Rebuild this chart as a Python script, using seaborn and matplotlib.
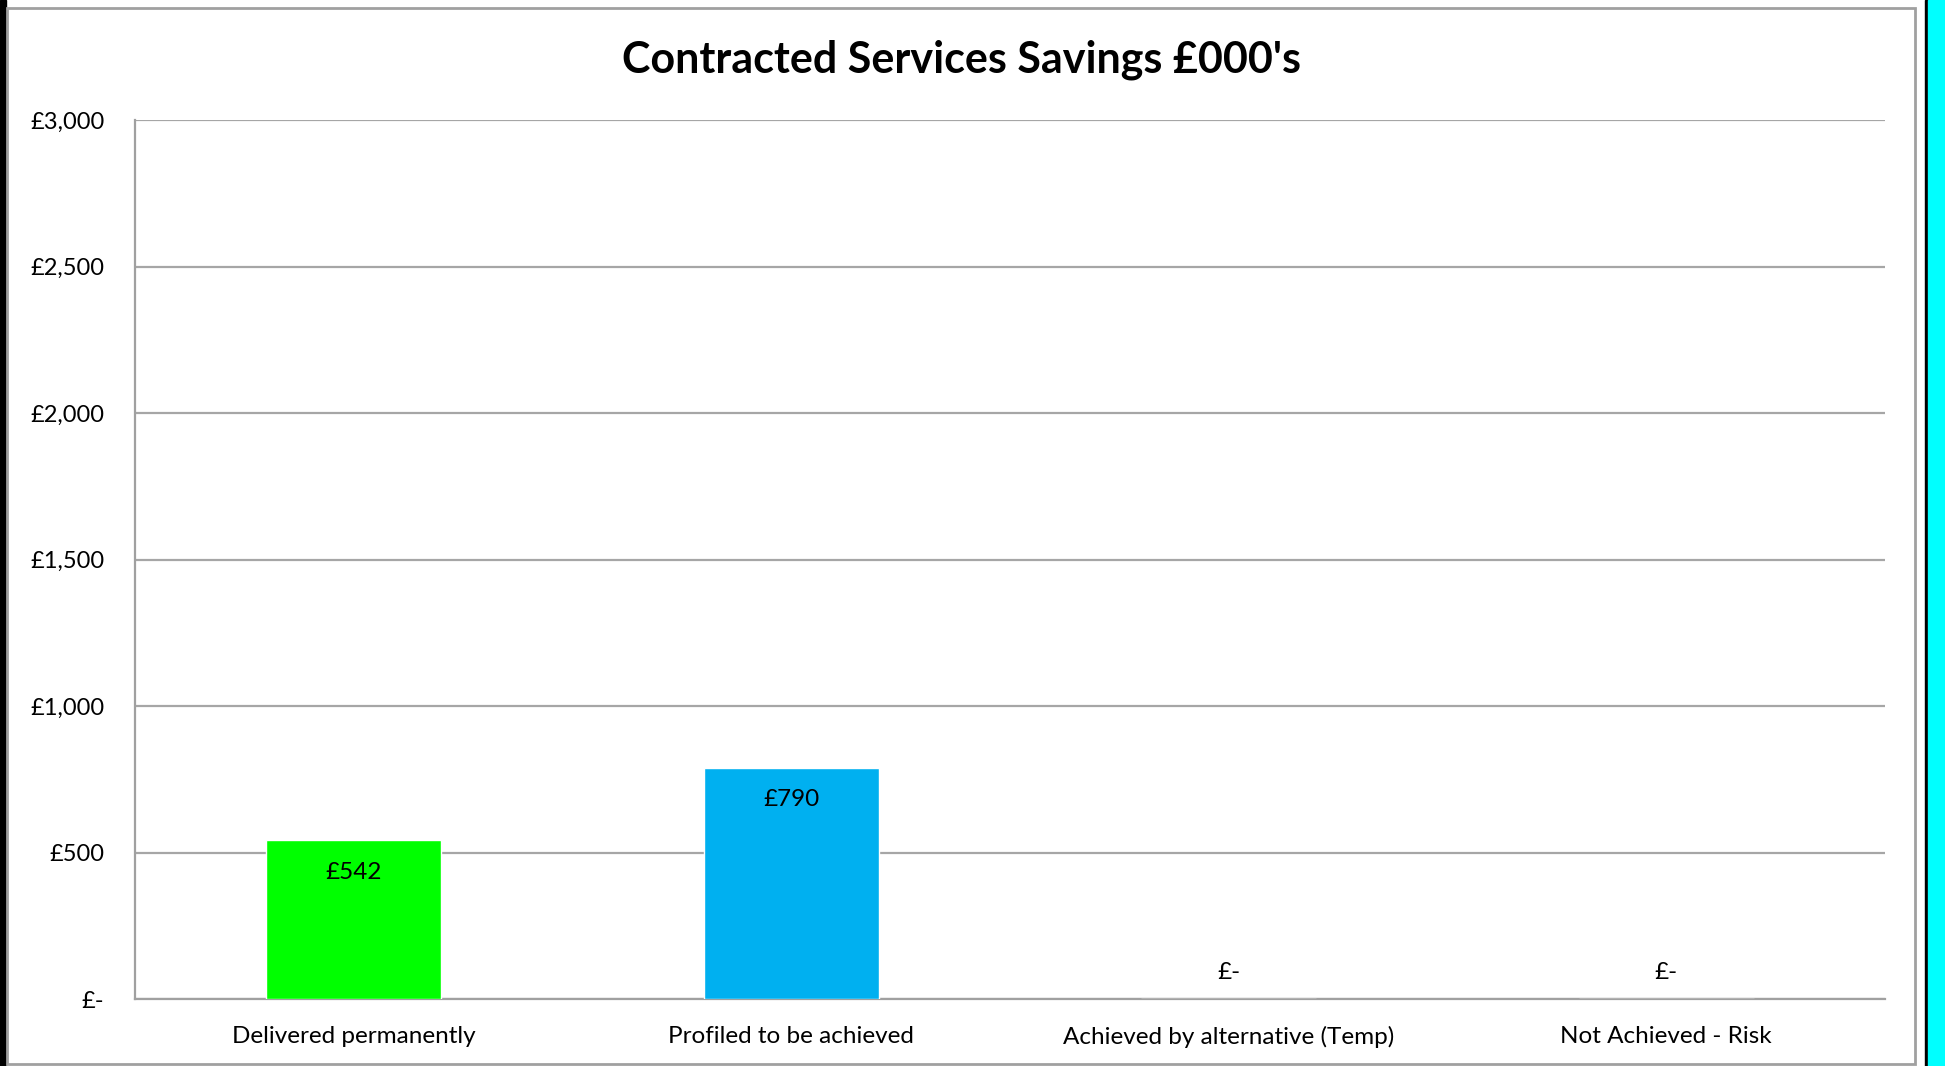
import matplotlib
matplotlib.use("Agg")
import matplotlib.pyplot as plt
import seaborn as sns
import pandas as pd
from matplotlib.patches import Rectangle
from matplotlib.ticker import FuncFormatter

categories = ["Delivered permanently", "Profiled to be achieved",
              "Achieved by alternative (Temp)", "Not Achieved - Risk"]
values = [542, 790, 0, 0]
bar_colors = ["#00FF00", "#00B0F0", "#A6A6A6", "#FF0000"]
title = "Contracted Services Savings £000's"
y_ticks = [0, 500, 1000, 1500, 2000, 2500, 3000]

sns.set_theme(style="white")
plt.rcParams['font.family'] = ['Lato', 'DejaVu Sans']

W, H = 1945, 1066
fig = plt.figure(figsize=(W / 100, H / 100), dpi=100)
fig.patch.set_facecolor("white")

# outer decorations
fig.add_artist(Rectangle((0, 0), 6 / W, 1, transform=fig.transFigure, color="black", zorder=0))
fig.add_artist(Rectangle((1925 / W, 0), 3 / W, 1, transform=fig.transFigure, color="black", zorder=0))
fig.add_artist(Rectangle((1928 / W, 0), 17 / W, 1, transform=fig.transFigure, color="#00FFFF", zorder=0))
fig.add_artist(Rectangle((7 / W, (H - 1064) / H), (1915 - 7) / W, (1064 - 8) / H,
                         transform=fig.transFigure, fill=False, edgecolor="#A0A0A0",
                         linewidth=2, zorder=0))

ax = fig.add_axes([135 / W, (H - 999) / H, 1750 / W, 879 / H])
df = pd.DataFrame({"cat": categories, "val": values})
sns.barplot(data=df, x="cat", y="val", hue="cat", palette=bar_colors,
            width=0.4, legend=False, ax=ax, saturation=1, zorder=3)

ax.set_ylim(0, 3000)
ax.set_xlim(-0.5, 3.5)
ax.set_yticks(y_ticks)
ax.yaxis.set_major_formatter(FuncFormatter(lambda v, p: "£-" if v == 0 else f"£{v:,.0f}"))
ax.grid(axis="y", color="#A6A6A6", linewidth=1.6, zorder=0)
ax.set_axisbelow(True)
for s in ["top", "right"]:
    ax.spines[s].set_visible(False)
for s in ["left", "bottom"]:
    ax.spines[s].set_color("#A0A0A0")
    ax.spines[s].set_linewidth(1.6)
ax.tick_params(axis="both", length=0, colors="black")
ax.tick_params(axis="y", pad=22, labelsize=17)
ax.tick_params(axis="x", pad=19.5, labelsize=17.5)
ax.set_xlabel("")
ax.set_ylabel("")

for i, v in enumerate(values):
    label = "£-" if v == 0 else f"£{v:,.0f}"
    ax.annotate(label, xy=(i, v), xytext=(0, -23 if v > 0 else 19),
                textcoords="offset points", ha="center", va="center",
                fontsize=17.5, color="black", zorder=5)

fig.text(961 / W, 1 - 60 / H, title, ha="center", va="center",
         fontsize=31, fontweight="bold", color="black")

fig.savefig("out.png", dpi=100)
